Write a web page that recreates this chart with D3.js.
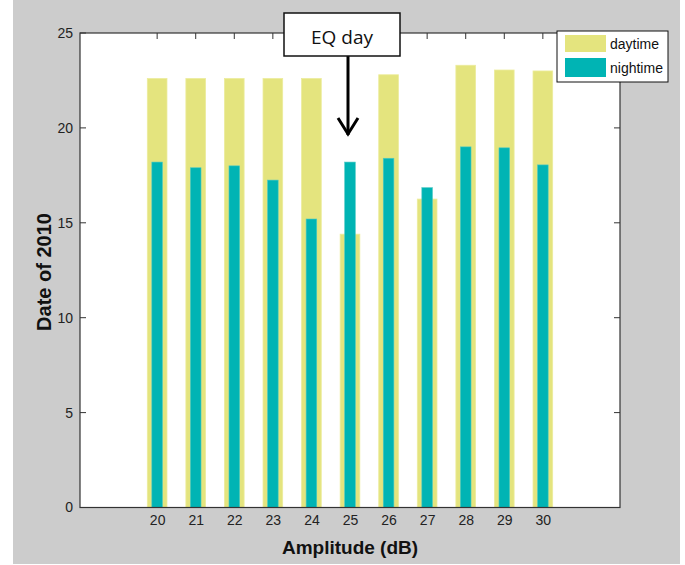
<!DOCTYPE html>
<html lang="en">
<head>
    <meta charset="UTF-8">
    <title>Date of 2010 vs Amplitude</title>
    <script src="https://d3js.org/d3.v7.min.js"></script>
    <style>
        body { margin: 0; background: #fff; }
        text { font-family: "Liberation Sans Narrow", "Liberation Sans", Arial, sans-serif; }
    </style>
</head>
<body>
    <svg width="685" height="565"></svg>
    <script>
        const amplitudes = [20, 21, 22, 23, 24, 25, 26, 27, 28, 29, 30];
        const daytime = [22.6, 22.6, 22.6, 22.6, 22.6, 14.4, 22.8, 16.25, 23.3, 23.05, 23.0];
        const nightime = [18.2, 17.9, 18.0, 17.25, 15.2, 18.2, 18.4, 16.85, 19.0, 18.95, 18.05];
        const yTicks = [0, 5, 10, 15, 20, 25];

        const svg = d3.select('svg');

        // gray figure background
        svg.append('rect')
            .attr('x', 13).attr('y', 0)
            .attr('width', 667).attr('height', 564)
            .attr('fill', '#cccccc');

        const plotL = 80, plotR = 620, plotT = 33, plotB = 507.5;

        const x = d3.scaleLinear().domain([18, 32]).range([plotL, plotR]);
        const y = d3.scaleLinear().domain([0, 25]).range([plotB, plotT]);

        svg.append('rect')
            .attr('x', plotL).attr('y', plotT)
            .attr('width', plotR - plotL).attr('height', plotB - plotT)
            .attr('fill', '#fff');

        // bars: wide yellow daytime, narrow teal nightime
        const dayW = x(0.51) - x(0), nightW = x(0.275) - x(0);

        svg.selectAll('rect.day')
            .data(amplitudes)
            .enter()
            .append('rect')
            .attr('class', 'day')
            .attr('x', d => x(d) - dayW / 2)
            .attr('y', (d, i) => y(daytime[i]))
            .attr('width', dayW)
            .attr('height', (d, i) => y(0) - y(daytime[i]))
            .attr('fill', '#e4e47e')
            .attr('stroke', '#ecec9c')
            .attr('stroke-width', 0.8);

        svg.selectAll('rect.night')
            .data(amplitudes)
            .enter()
            .append('rect')
            .attr('class', 'night')
            .attr('x', d => x(d) - nightW / 2)
            .attr('y', (d, i) => y(nightime[i]))
            .attr('width', nightW)
            .attr('height', (d, i) => y(0) - y(nightime[i]))
            .attr('fill', '#00b4b4')
            .attr('stroke', '#4cc8c4')
            .attr('stroke-width', 0.6);

        // axes (MATLAB style, ticks inside, box on)
        const axisColor = '#333';
        const xAxis = svg.append('g')
            .attr('transform', `translate(0,${plotB})`)
            .call(d3.axisBottom(x).tickValues(amplitudes).tickSize(0).tickPadding(8));
        xAxis.select('.domain').remove();
        xAxis.selectAll('text').attr('font-size', 14).attr('fill', '#222');

        const yAxis = svg.append('g')
            .attr('transform', `translate(${plotL},0)`)
            .call(d3.axisLeft(y).tickValues(yTicks).tickSize(0).tickPadding(7));
        yAxis.select('.domain').remove();
        yAxis.selectAll('text').attr('font-size', 14).attr('fill', '#222');

        const ticks = svg.append('g').attr('stroke', axisColor).attr('stroke-width', 1);
        ticks.selectAll('line.yl').data(yTicks).enter().append('line')
            .attr('class', 'yl')
            .attr('x1', plotL).attr('x2', plotL + 6)
            .attr('y1', d => y(d)).attr('y2', d => y(d));
        ticks.selectAll('line.yr').data(yTicks).enter().append('line')
            .attr('class', 'yr')
            .attr('x1', plotR).attr('x2', plotR - 6)
            .attr('y1', d => y(d)).attr('y2', d => y(d));
        ticks.selectAll('line.xt').data(amplitudes).enter().append('line')
            .attr('class', 'xt')
            .attr('x1', d => x(d)).attr('x2', d => x(d))
            .attr('y1', plotT).attr('y2', plotT + 6);

        svg.append('rect')
            .attr('x', plotL).attr('y', plotT)
            .attr('width', plotR - plotL).attr('height', plotB - plotT)
            .attr('fill', 'none')
            .attr('stroke', axisColor)
            .attr('stroke-width', 1.2);

        // axis labels
        svg.append('text')
            .attr('x', 350).attr('y', 554)
            .attr('text-anchor', 'middle')
            .attr('font-size', 19).attr('font-weight', 'bold')
            .style('font-family', 'Liberation Sans, Arial, sans-serif')
            .attr('fill', '#111')
            .text('Amplitude (dB)');

        svg.append('text')
            .attr('transform', 'translate(51,272) rotate(-90)')
            .attr('text-anchor', 'middle')
            .attr('font-size', 20).attr('font-weight', 'bold')
            .style('font-family', 'Liberation Sans, Arial, sans-serif')
            .attr('fill', '#111')
            .text('Date of 2010');

        // legend
        const legend = svg.append('g');
        legend.append('rect')
            .attr('x', 557).attr('y', 31).attr('width', 111).attr('height', 51)
            .attr('fill', '#fff').attr('stroke', '#111').attr('stroke-width', 1);
        legend.append('rect')
            .attr('x', 565).attr('y', 35).attr('width', 41).attr('height', 17)
            .attr('fill', '#e4e47e');
        legend.append('rect')
            .attr('x', 565).attr('y', 58).attr('width', 41).attr('height', 19)
            .attr('fill', '#00b4b4');
        legend.append('text')
            .attr('x', 610).attr('y', 49)
            .attr('font-size', 14).attr('fill', '#111')
            .text('daytime');
        legend.append('text')
            .attr('x', 610).attr('y', 73)
            .attr('font-size', 14).attr('fill', '#111')
            .text('nightime');

        // EQ day annotation
        svg.append('line')
            .attr('x1', 348).attr('y1', 56).attr('x2', 348).attr('y2', 135)
            .attr('stroke', '#000').attr('stroke-width', 3);
        svg.append('path')
            .attr('d', 'M338,118 L348,134 L358,118')
            .attr('fill', 'none').attr('stroke', '#000').attr('stroke-width', 3);
        svg.append('rect')
            .attr('x', 284).attr('y', 13).attr('width', 116).attr('height', 43)
            .attr('fill', '#fff').attr('stroke', '#111').attr('stroke-width', 1.5);
        svg.append('text')
            .attr('x', 342).attr('y', 44)
            .attr('text-anchor', 'middle')
            .attr('font-size', 19)
            .style('font-family', 'Open Sans, Liberation Sans, sans-serif')
            .attr('fill', '#111')
            .text('EQ day');
    </script>
</body>
</html>
